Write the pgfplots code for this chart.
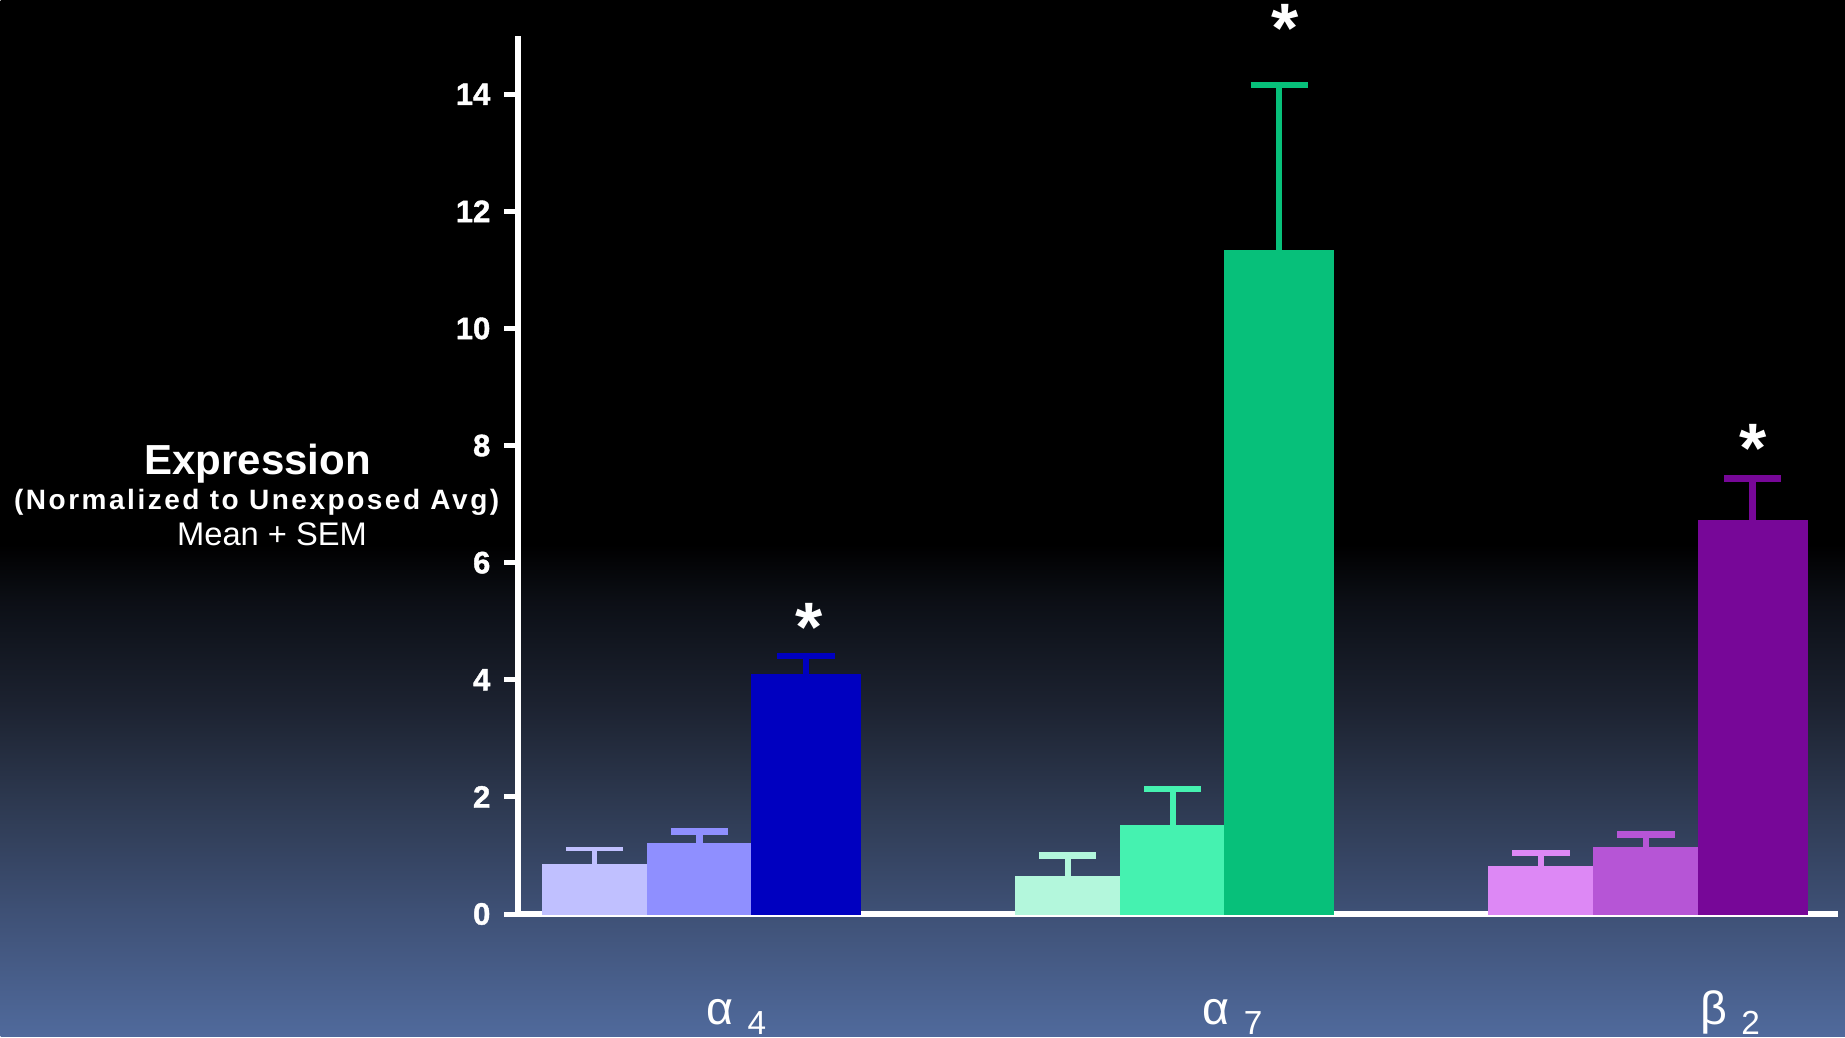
\documentclass[border=0pt]{standalone}
\usepackage{pgfplots}
\pgfplotsset{compat=1.18}
\usepackage{fontspec}
\setmainfont{Liberation Sans}
\newfontfamily\spacedfont{Liberation Sans}[LetterSpace=9]
\newfontfamily\tickfont{Liberation Sans}[BoldFeatures={FakeBold=1.3}]

\definecolor{a4a}{RGB}{192,192,255}
\definecolor{a4b}{RGB}{143,143,255}
\definecolor{a4c}{RGB}{0,0,192}
\definecolor{a7a}{RGB}{179,247,220}
\definecolor{a7b}{RGB}{69,242,176}
\definecolor{a7c}{RGB}{7,192,122}
\definecolor{b2a}{RGB}{221,136,245}
\definecolor{b2b}{RGB}{182,85,214}
\definecolor{b2c}{RGB}{119,7,152}

\definecolor{bg0}{RGB}{80,106,156}
\definecolor{bg1}{RGB}{62,80,117}
\definecolor{bg2}{RGB}{46,58,82}
\definecolor{bg3}{RGB}{28,34,48}
\definecolor{bg4}{RGB}{12,15,22}
\pgfdeclareverticalshading{bgshade}{553.5pt}{color(0pt)=(bg0); color(37.8pt)=(bg1); color(68.7pt)=(bg2); color(99.6pt)=(bg3); color(130.2pt)=(bg4); color(147.6pt)=(black); color(311.1pt)=(black)}

\pgfplotsset{
  mybar/.style n args={3}{ybar, bar shift=0pt, bar width=#2, fill=#1, draw=#1, line width=0.2pt,
    error bars/.cd, y dir=plus, y explicit,
    error bar style={line width=#3, color=#1},
    error mark options={rotate=90, line width=#3, mark size=8.6pt, color=#1}},
}

\begin{document}
\begin{tikzpicture}
\useasboundingbox (0,0) rectangle (553.5pt,311.1pt);
\node[inner sep=0pt, anchor=south west] at (0,0) {\pgfuseshading{bgshade}};

\node[anchor=base, inner sep=0pt, text=white, font=\fontsize{12.6}{14}\selectfont\bfseries] at (77.3pt,168.9pt) {Expression};
\node[anchor=base, inner sep=0pt, text=white, font=\spacedfont\bfseries\fontsize{8.4}{10}\selectfont] at (77.0pt,158.3pt) {(Normalized to Unexposed Avg)};
\node[anchor=base, inner sep=0pt, text=white, font=\fontsize{9.8}{11}\selectfont] at (81.6pt,147.5pt) {Mean + SEM};

\begin{axis}[
  at={(155.4pt,36.9pt)}, anchor=south west,
  scale only axis, width=396pt, height=263.5pt,
  xmin=-0.3835, xmax=2.4057, ymin=0, ymax=15,
  axis lines=left,
  axis line style={white, line width=1.8pt, -},
  ytick={0,2,4,6,8,10,12,14},
  tick align=outside, major tick length=4.2pt,
  ytick style={white, line width=1.5pt},
  xtick={0.0137,1.0622,2.114},
  xtick style={draw=none},
  xticklabels={{α\hspace{4.2pt}\raisebox{-2.9pt}{\fontsize{10}{12}\selectfont 4}},
               {α\hspace{4.2pt}\raisebox{-2.9pt}{\fontsize{10}{12}\selectfont 7}},
               {β\hspace{4.2pt}\raisebox{-2.9pt}{\fontsize{10}{12}\selectfont 2}}},
  xticklabel style={anchor=base west, inner sep=0pt, text=white, font=\fontsize{14}{16}\selectfont, yshift=-29pt},
  yticklabel style={anchor=east, inner sep=0pt, xshift=-3.9pt, text=white, font=\tickfont\bfseries\fontsize{9.3}{11}\selectfont},
  /pgf/number format/assume math mode=true,
  clip=false,
]
% alpha 4
\addplot[mybar={a4a}{0.222}{1.4pt}] coordinates {(-0.222,0.85) +- (0,0.26)};
\addplot[mybar={a4b}{0.222}{1.9pt}] coordinates {(0,1.21) +- (0,0.20)};
\addplot[mybar={a4c}{0.230}{1.9pt}] coordinates {(0.225,4.09) +- (0,0.32)};
% alpha 7
\addplot[mybar={a7a}{0.222}{1.9pt}] coordinates {(0.778,0.65) +- (0,0.35)};
\addplot[mybar={a7b}{0.222}{1.9pt}] coordinates {(1,1.52) +- (0,0.61)};
\addplot[mybar={a7c}{0.230}{1.9pt}] coordinates {(1.225,11.33) +- (0,2.83)};
% beta 2
\addplot[mybar={b2a}{0.222}{1.9pt}] coordinates {(1.778,0.81) +- (0,0.23)};
\addplot[mybar={b2b}{0.222}{1.9pt}] coordinates {(2,1.14) +- (0,0.22)};
\addplot[mybar={b2c}{0.230}{1.9pt}] coordinates {(2.225,6.72) +- (0,0.72)};

\node[text=white, inner sep=0pt, anchor=base, yshift=-10.4pt, font=\fontsize{21}{21}\selectfont\bfseries] at (axis cs:0.2314,5.08) {*};
\node[text=white, inner sep=0pt, anchor=base, yshift=-10.4pt, font=\fontsize{21}{21}\selectfont\bfseries] at (axis cs:1.237,15.31) {*};
\node[text=white, inner sep=0pt, anchor=base, yshift=-10.4pt, font=\fontsize{21}{21}\selectfont\bfseries] at (axis cs:2.226,8.13) {*};
\end{axis}
\end{tikzpicture}
\end{document}
